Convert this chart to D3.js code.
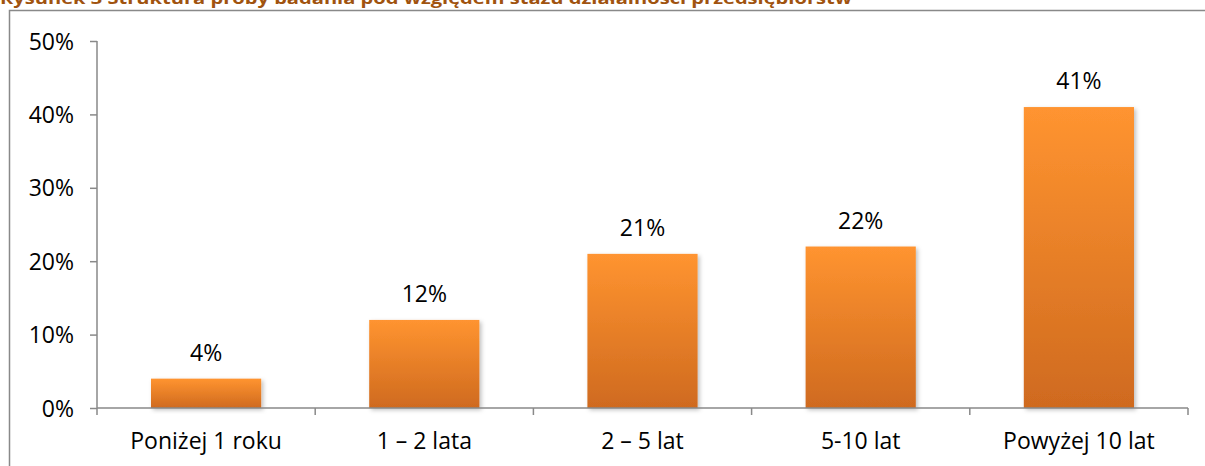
<!DOCTYPE html>
<html>
<head>
<meta charset="utf-8">
<script src="https://cdn.jsdelivr.net/npm/d3@7"></script>
<style>
  body { margin: 0; background: #fff; }
  svg text { font-family: "Open Sans", "Noto Sans", sans-serif; }
</style>
</head>
<body>
<div id="chart"></div>
<script>
// data
var categories = ["Poniżej 1 roku", "1 – 2 lata", "2 – 5 lat", "5-10 lat", "Powyżej 10 lat"];
var values = [4, 12, 21, 22, 41];
var yTicks = [0, 10, 20, 30, 40, 50];
var title = "Rysunek 3 Struktura próby badania pod względem stażu działalności przedsiębiorstw";

function init() {
    var w = 1205, h = 466;
    var plot = {left: 97, right: 1188, top: 41, bottom: 408};
    var fs = 23;

    var svg = d3.select("#chart").append("svg")
        .attr("width", w)
        .attr("height", h);

    var defs = svg.append("defs");
    var grad = defs.append("linearGradient")
        .attr("id", "barGrad")
        .attr("x1", 0).attr("y1", 0).attr("x2", 0).attr("y2", 1);
    grad.append("stop").attr("offset", "0%").attr("stop-color", "#ff9430");
    grad.append("stop").attr("offset", "100%").attr("stop-color", "#cf6a1f");

    var shadow = defs.append("filter").attr("id", "shadow")
        .attr("x", "-10%").attr("y", "-10%").attr("width", "130%").attr("height", "130%");
    shadow.append("feDropShadow")
        .attr("dx", 2).attr("dy", 2).attr("stdDeviation", 2)
        .attr("flood-color", "#000").attr("flood-opacity", 0.25);

    // title (cut off at the top edge like the original)
    svg.append("text")
        .attr("x", 0)
        .attr("y", 4)
        .attr("font-size", 16)
        .attr("font-weight", "bold")
        .attr("fill", "#a0530f")
        .attr("textLength", 852)
        .attr("lengthAdjust", "spacingAndGlyphs")
        .text(title);

    // chart frame
    svg.append("rect")
        .attr("x", 9.5).attr("y", 10.5)
        .attr("width", w + 20).attr("height", h + 20)
        .attr("fill", "none")
        .attr("stroke", "#898989")
        .attr("stroke-width", 1.5);

    var x = d3.scaleBand()
        .domain(categories)
        .range([plot.left, plot.right])
        .paddingInner(0.495)
        .paddingOuter(0.2475);

    var y = d3.scaleLinear()
        .domain([0, 50])
        .range([plot.bottom, plot.top]);

    // bars
    svg.selectAll("rect.bar")
        .data(values)
        .enter()
        .append("rect")
        .attr("class", "bar")
        .attr("x", function(d, i) { return x(categories[i]); })
        .attr("y", function(d) { return y(d); })
        .attr("width", x.bandwidth())
        .attr("height", function(d) { return y(0) - y(d); })
        .attr("fill", "url(#barGrad)")
        .attr("filter", "url(#shadow)");

    // value labels
    svg.selectAll("text.val")
        .data(values)
        .enter()
        .append("text")
        .attr("class", "val")
        .attr("x", function(d, i) { return x(categories[i]) + x.bandwidth() / 2; })
        .attr("y", function(d) { return y(d) - 18; })
        .attr("text-anchor", "middle")
        .attr("font-size", fs)
        .attr("fill", "#000")
        .text(function(d) { return d + "%"; });

    // y axis
    var yAxis = d3.axisLeft(y)
        .tickValues(yTicks)
        .tickSize(7)
        .tickPadding(16)
        .tickFormat(function(d) { return d + "%"; });

    var gy = svg.append("g")
        .attr("transform", "translate(" + plot.left + ",0)")
        .call(yAxis);
    gy.select(".domain").attr("stroke", "#898989").attr("stroke-width", 1.5)
        .attr("d", "M0," + plot.top + "V" + plot.bottom);
    gy.selectAll(".tick line").attr("stroke", "#898989").attr("stroke-width", 1.5);
    gy.selectAll(".tick text").attr("font-size", fs).attr("fill", "#000")
        .attr("dy", "0.35em");

    // x axis: tick marks on category boundaries
    var gx = svg.append("g");
    gx.append("line")
        .attr("x1", plot.left).attr("x2", plot.right)
        .attr("y1", plot.bottom).attr("y2", plot.bottom)
        .attr("stroke", "#898989").attr("stroke-width", 1.5);
    var bounds = categories.map(function(c) { return x(c) - x.step() * x.paddingInner() / 2; });
    bounds.push(plot.right);
    gx.selectAll("line.xt")
        .data(bounds)
        .enter()
        .append("line")
        .attr("class", "xt")
        .attr("x1", function(d) { return d; }).attr("x2", function(d) { return d; })
        .attr("y1", plot.bottom).attr("y2", plot.bottom + 7)
        .attr("stroke", "#898989").attr("stroke-width", 1.5);

    gx.selectAll("text.cat")
        .data(categories)
        .enter()
        .append("text")
        .attr("class", "cat")
        .attr("x", function(d) { return x(d) + x.bandwidth() / 2; })
        .attr("y", 449)
        .attr("text-anchor", "middle")
        .attr("font-size", fs)
        .attr("fill", "#000")
        .text(function(d) { return d; });
}

window.onload = init;
</script>
</body>
</html>
